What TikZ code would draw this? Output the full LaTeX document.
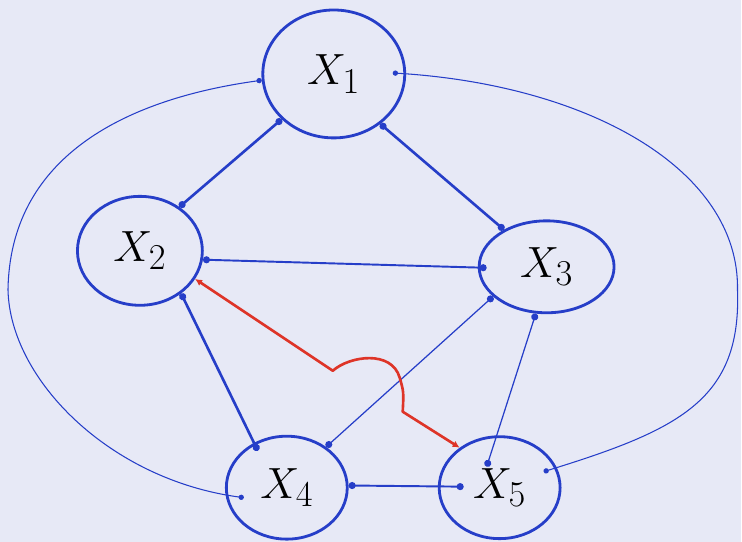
\documentclass[tikz,border=0pt]{standalone}
\usepackage{amsmath,amssymb}
\usetikzlibrary{shapes.geometric,arrows.meta}

\definecolor{paper}{RGB}{231,233,246}
\definecolor{ink}{RGB}{38,62,200}
\definecolor{redink}{RGB}{222,52,40}

\begin{document}
\begin{tikzpicture}[x=0.2mm, y=-0.2mm,
	v/.style={draw=ink, ellipse, line width=1.6pt, inner sep=0pt, font=\fontsize{30}{30}\selectfont},
	e/.style={draw=ink, line width=1.5pt, {Circle[length=4pt]}-{Circle[length=4pt]}},
	ethin/.style={draw=ink, line width=0.7pt, {Circle[length=4pt]}-{Circle[length=4pt]}},
	loop/.style={draw=ink, line width=0.6pt, {Circle[length=3pt]}-{Circle[length=3pt]}}]
	\fill[paper] (0,0) rectangle (742,542);
	\node[v, minimum width=142*0.2mm, minimum height=128*0.2mm] (X1) at (334,74) {$X_1$};
	\node[v, minimum width=125*0.2mm, minimum height=109*0.2mm] (X2) at (140,251) {$X_2$};
	\node[v, minimum width=135*0.2mm, minimum height=92*0.2mm] (X3) at (547,267) {$X_3$};
	\node[v, minimum width=121*0.2mm, minimum height=103*0.2mm] (X4) at (287,488) {$X_4$};
	\node[v, minimum width=121*0.2mm, minimum height=102*0.2mm] (X5) at (500,488) {$X_5$};
	% edges of the pentagon
	\draw[e] (X1.221) -- (X2.48);
	\draw[e] (X1.313) -- (X3.139.5);
	\draw[e, line width=1.1pt] (X2.352) -- ([shift={(-60,1)}]X3.center);
	\draw[e] (X2.314) -- ([shift={(-29,-37)}]X4.center);
	\draw[ethin] (X3.209.5) -- (X4.46.6);
	\draw[ethin] (X3.257) -- ([shift={(-13,-21)}]X5.center);
	\draw[e, line width=1.1pt] (X4.2) -- ([shift={(-36,-1)}]X5.center);
	% big outer curves
	\draw[loop] (X1.185) .. controls (120,100) and (10,160) .. (8,290)
		.. controls (10,380) and (110,480) .. ([shift={(-43,10)}]X4.center);
	\draw[loop] ([shift={(59,-1)}]X1.center) .. controls (590,85) and (740,170) .. (738,290)
		.. controls (742,400) and (680,430) .. ([shift={(44,-16)}]X5.center);
	% red edge hopping over X3--X4
	\draw[redink, line width=1.5pt, line join=round, {Latex[length=4pt,width=4pt]}-{Latex[length=4pt,width=4pt]}]
		(X2.333) -- (333,371) .. controls (350,356) and (392,350) .. (400,378)
		.. controls (404,392) .. (403,412) -- (X5.135);
\end{tikzpicture}
\end{document}
